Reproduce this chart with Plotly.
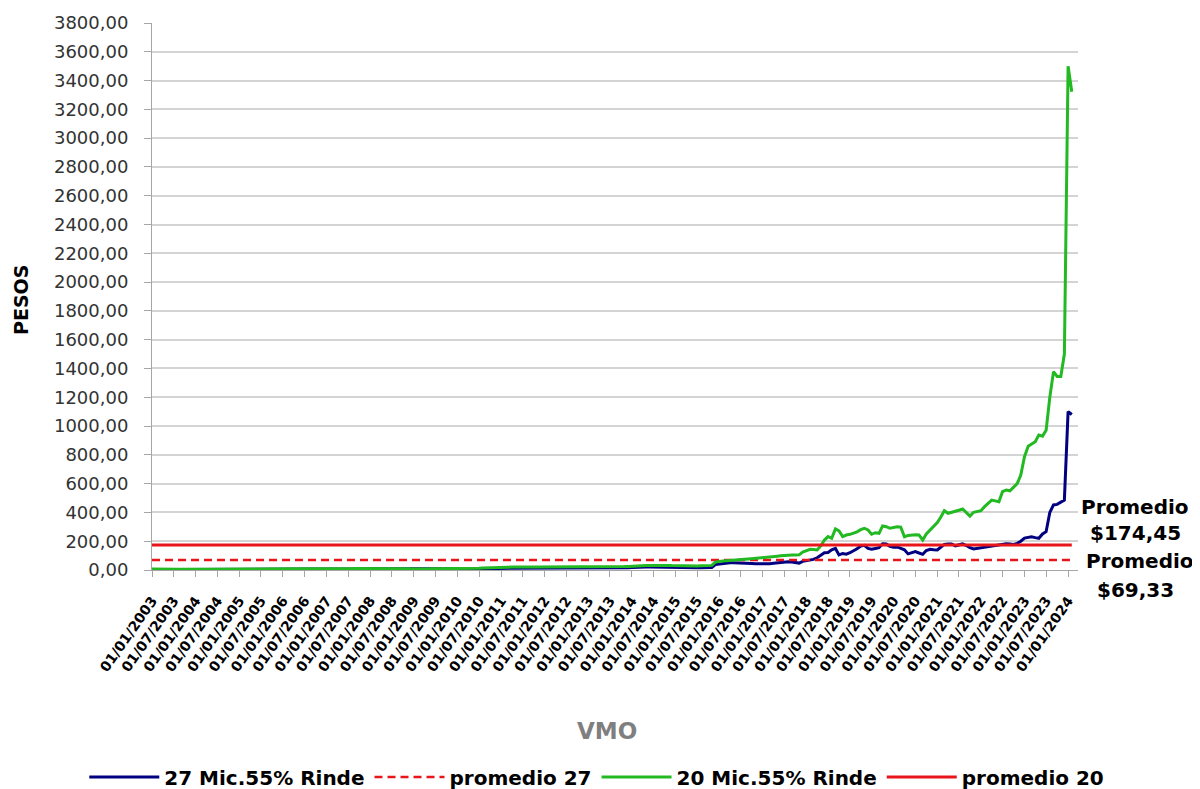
import pandas as pd
import plotly.graph_objects as go

# ---------------- data (monthly) ----------------
START = "2003-01-01"

green_2003_2014 = [
    7, 6, 6, 6, 5, 5, 5, 5, 5, 6, 6, 6,
    6, 6, 6, 6, 6, 6, 6, 6, 5, 5, 5, 5,
    5, 5, 5, 5, 6, 6, 6, 6, 6, 6, 6, 6,
    6, 6, 7, 7, 7, 7, 7, 7, 7, 7, 8, 8,
    8, 9, 9, 9, 9, 10, 10, 10, 11, 11, 12, 12,
    12, 13, 13, 14, 14, 13, 13, 12, 11, 10, 9, 8,
    7, 7, 7, 7, 7, 8, 8, 8, 9, 9, 10, 10,
    10, 11, 11, 12, 12, 13, 13, 14, 14, 15, 15, 16,
    17, 18, 19, 20, 21, 22, 22, 22, 21, 21, 20, 20,
    20, 20, 20, 21, 21, 20, 20, 20, 20, 19, 19, 19,
    19, 20, 20, 21, 22, 22, 23, 23, 24, 24, 24, 25,
    27, 30, 30, 31, 31, 31, 32, 32, 32, 32, 32, 31,
]
green_2015_2024 = [
    30, 30, 29, 29, 28, 28, 28, 29, 30, 31, 32, 55,
    60, 62, 64, 65, 68, 70, 72, 74, 76, 78, 80, 81,
    84, 86, 88, 92, 96, 99, 102, 104, 104, 104, 105, 125,
    135, 144, 142, 139, 167, 208, 232, 220, 285, 271, 232, 243,
    248, 255, 265, 280, 290, 278, 248, 259, 255, 306, 301, 290,
    295, 300, 298, 230, 240, 243, 245, 243, 208, 250, 275, 300,
    330, 370, 412, 394, 400, 405, 415, 424, 400, 375, 401, 405,
    412, 440, 465, 486, 480, 474, 544, 556, 550, 574, 600, 660,
    787, 860, 875, 891, 938, 930, 970, 1200, 1378, 1345, 1345, 1500,
    3500, 3323,
]
blue_2003_2014 = [
    4, 3, 3, 3, 3, 3, 3, 3, 3, 3, 3, 3,
    3, 3, 3, 3, 3, 3, 3, 3, 3, 3, 3, 3,
    3, 3, 3, 3, 3, 3, 4, 4, 4, 4, 4, 4,
    4, 4, 4, 4, 4, 5, 5, 5, 5, 5, 5, 6,
    6, 6, 6, 7, 7, 7, 7, 8, 8, 8, 9, 9,
    9, 9, 10, 10, 10, 10, 9, 9, 8, 7, 6, 5,
    5, 5, 5, 5, 5, 5, 5, 6, 6, 6, 7, 7,
    7, 7, 8, 8, 8, 9, 9, 9, 10, 10, 10, 11,
    11, 12, 13, 14, 15, 15, 15, 15, 14, 14, 14, 13,
    13, 13, 13, 13, 13, 13, 13, 13, 12, 12, 12, 12,
    12, 13, 13, 13, 14, 14, 14, 15, 15, 15, 16, 16,
    18, 20, 20, 21, 21, 21, 21, 21, 21, 21, 20, 20,
]
blue_2015_2024 = [
    19, 19, 18, 18, 17, 17, 16, 15, 16, 17, 18, 38,
    42, 45, 48, 50, 50, 48, 47, 46, 46, 45, 44, 43,
    42, 42, 44, 47, 50, 53, 56, 58, 55, 50, 48, 60,
    65, 70, 74, 85, 100, 120, 122, 140, 150, 105, 115, 110,
    120, 132, 148, 167, 172, 150, 145, 150, 155, 182, 180, 165,
    158, 160, 150, 140, 112, 120, 128, 118, 109, 135, 144, 140,
    139, 160, 178, 180, 181, 168, 175, 181, 170, 155, 146, 150,
    155, 160, 165, 168, 172, 178, 181, 182, 180, 178, 185, 200,
    222, 228, 231, 225, 220, 250, 266, 400, 452, 456, 470, 486,
    1100, 1080,
]

green_values = green_2003_2014 + green_2015_2024   # 20 Mic.55% Rinde
blue_values = blue_2003_2014 + blue_2015_2024      # 27 Mic.55% Rinde

AVG_27 = 69.33
AVG_20 = 174.45

series_names = ["27 Mic.55% Rinde", "promedio 27", "20 Mic.55% Rinde", "promedio 20"]
y_ticks = list(range(0, 3801, 200))

dates = pd.date_range(start=START, periods=len(green_values), freq="MS")


def fmt_money(v):
    return "$" + f"{v:.2f}".replace(".", ",")


# ---------------- figure ----------------
NAVY = "#000080"
GREEN = "#22b922"
RED = "#e8161b"
FONT = "DejaVu Sans"

# layout geometry (screen pixels; the page body adds an 8px offset)
FIG_W, FIG_H = 1192, 781
M_L, M_T, M_B, M_R = 144, 15, 219, 0
AREA_W = FIG_W - M_L - M_R          # plotting region incl. right-hand text column
AXIS_W = 926                        # visible x axis length
PLOT_X0, PLOT_Y0, PLOT_H = 152, 570, 547


def px_x(sx):
    return (sx - PLOT_X0) / AREA_W


def px_y(sy):
    return (PLOT_Y0 - sy) / PLOT_H


fig = go.Figure()
fig.add_trace(go.Scatter(x=dates, y=blue_values, mode="lines", name=series_names[0],
                         line=dict(color=NAVY, width=3)))
fig.add_trace(go.Scatter(x=dates, y=[AVG_27] * len(dates), mode="lines", name=series_names[1],
                         line=dict(color=RED, width=2.5, dash="8px,5px")))
fig.add_trace(go.Scatter(x=dates, y=green_values, mode="lines", name=series_names[2],
                         line=dict(color=GREEN, width=3)))
fig.add_trace(go.Scatter(x=dates, y=[AVG_20] * len(dates), mode="lines", name=series_names[3],
                         line=dict(color=RED, width=3)))

fig.update_layout(
    width=FIG_W, height=FIG_H,
    margin=dict(l=M_L, r=M_R, t=M_T, b=M_B),
    paper_bgcolor="white", plot_bgcolor="white",
    separators=",.",
    showlegend=True,
    legend=dict(orientation="h", xref="container", yref="container",
                x=0.064, xanchor="left", y=12 / FIG_H, yanchor="middle",
                font=dict(family=FONT, size=20, color="black", weight="bold"),
                itemwidth=70, bgcolor="rgba(0,0,0,0)"),
    xaxis=dict(
        type="date",
        domain=[0, AXIS_W / AREA_W],
        range=["2003-01-01", "2024-03-24"],
        tick0=START, dtick="M6", tickformat="%d/%m/%Y",
        tickangle=-55,
        tickfont=dict(family=FONT, size=14, color="black", weight="bold"),
        ticklabelstandoff=10,
        ticks="outside", ticklen=6, tickcolor="#a6a6a6",
        showline=True, linecolor="#a6a6a6", linewidth=1,
        showgrid=False, zeroline=False, automargin=False,
    ),
    yaxis=dict(
        range=[0, 3800],
        tickvals=y_ticks, tickformat=".2f",
        tickfont=dict(family=FONT, size=18, color="#333333"),
        ticklabelstandoff=12,
        ticks="outside", ticklen=7, tickcolor="#a6a6a6",
        showline=True, linecolor="#a6a6a6", linewidth=1,
        showgrid=True, gridcolor="#d4d4d4", gridwidth=1.5,
        zeroline=False, automargin=False,
    ),
)

ann_font = dict(family=FONT, size=20, color="black", weight="bold")
annotations = [
    dict(text="PESOS", x=px_x(21), y=px_y(300), textangle=-90,
         font=dict(family=FONT, size=19, color="black", weight="bold")),
    dict(text="VMO", x=px_x(607), y=px_y(731),
         font=dict(family=FONT, size=23, color="#7f7f7f", weight="bold")),
    dict(text="Promedio", x=px_x(1135), y=px_y(507), font=ann_font),
    dict(text=fmt_money(AVG_20), x=px_x(1135), y=px_y(533), font=ann_font),
    dict(text="Promedio", x=px_x(1140), y=px_y(561), font=ann_font),
    dict(text=fmt_money(AVG_27), x=px_x(1135), y=px_y(590), font=ann_font),
]
for a in annotations:
    fig.add_annotation(xref="paper", yref="paper", showarrow=False,
                       xanchor="center", yanchor="middle", **a)

fig.write_html("out.html")
